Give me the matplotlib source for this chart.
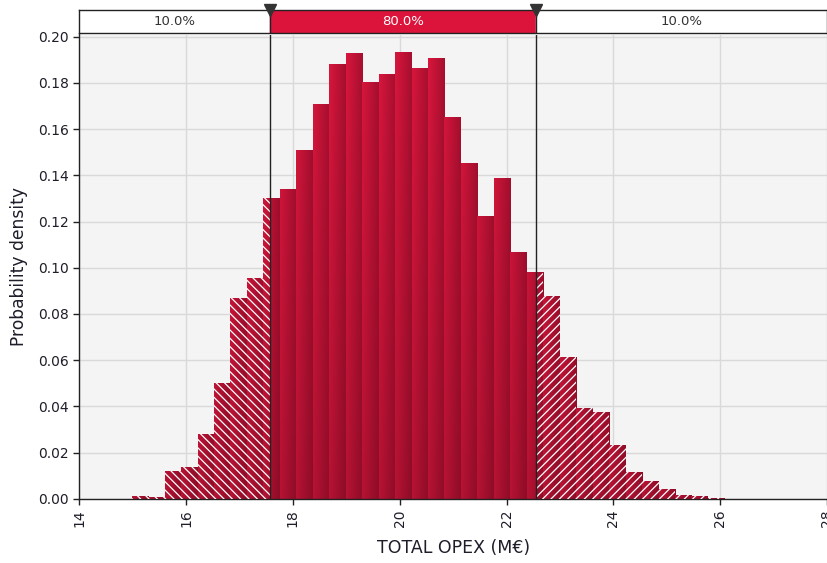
import numpy as np
import matplotlib
matplotlib.use("Agg")
import matplotlib.pyplot as plt
from matplotlib.colors import to_rgb
from matplotlib.transforms import blended_transform_factory

# Histogram of simulated total OPEX (M€)
bin_start = 14.98
bin_width = 0.3083
density = [
    0.0010, 0.0006, 0.0121, 0.0139, 0.0279, 0.0500, 0.0870, 0.0954,
    0.1300, 0.1340, 0.1512, 0.1707, 0.1883, 0.1928, 0.1805, 0.1837,
    0.1935, 0.1863, 0.1909, 0.1654, 0.1452, 0.1224, 0.1387, 0.1068,
    0.0982, 0.0877, 0.0615, 0.0394, 0.0374, 0.0232, 0.0115, 0.0077,
    0.0044, 0.0016, 0.0010, 0.0004,
]

# interval delimiters and the share of outcomes in each region
delimiters = [17.57, 22.55]
region_pct = [10.0, 80.0, 10.0]

x_ticks = [14, 16, 18, 20, 22, 24, 26, 28]
y_ticks = [0.00, 0.02, 0.04, 0.06, 0.08, 0.10, 0.12, 0.14, 0.16, 0.18, 0.20]
x_label = "TOTAL OPEX (M€)"
y_label = "Probability density"

RED = "#DC143C"
TEXT = "#1e1e2a"

plt.rcParams["font.family"] = ["DejaVu Sans"]
plt.rcParams["hatch.color"] = "white"
plt.rcParams["hatch.linewidth"] = 0.9

W, H = 827, 563
fig = plt.figure(figsize=(W / 100, H / 100), dpi=100)


def fy(py):
    return 1 - py / H


left = 79.3 / W
ax = fig.add_axes([left, fy(498.7), 1.0 - left, fy(34.5) - fy(498.7)])
strip = fig.add_axes([left, fy(32.7), 1.0 - left, fy(10.0) - fy(32.7)])

xlim = (x_ticks[0], x_ticks[-1])
ylim = (0, 0.201)

# split each bin at the delimiters so each piece belongs to one region
edges = bin_start + bin_width * np.arange(len(density) + 1)
seg_left, seg_w, seg_h, seg_reg, seg_bin = [], [], [], [], []
for i, h in enumerate(density):
    lo, hi = edges[i], edges[i + 1]
    cuts = [lo] + [d for d in delimiters if lo < d < hi] + [hi]
    for a, b in zip(cuts[:-1], cuts[1:]):
        reg = sum(1 for d in delimiters if a >= d - 1e-9)
        seg_left.append(a)
        seg_w.append(b - a)
        seg_h.append(h)
        seg_reg.append(reg)
        seg_bin.append(i)

bars = ax.bar(seg_left, seg_h, width=seg_w, align="edge", color=RED,
              linewidth=0, zorder=2)

# shaded fill: bright on the left of each bin, darker to the right and lower down
c_left = np.array(to_rgb("#DA163D"))
c_right = np.array(to_rgb("#A80F2F"))
nx, ny = 40, 80
tx = np.linspace(0, 1, nx)[None, :, None]
ty = np.linspace(0, 1, ny)[:, None, None]
grad = (c_left * (1 - tx) + c_right * tx) * (0.84 + 0.16 * ty)
grad = np.clip(grad, 0, 1)
for patch, b in zip(bars, seg_bin):
    im = ax.imshow(grad, extent=(edges[b], edges[b + 1], 0, ylim[1]),
                   origin="lower", aspect="auto", interpolation="bilinear",
                   zorder=2.1)
    im.set_clip_path(patch)

# hatching over the two tails
hatch_for = {0: "\\\\\\\\", 2: "////"}
for reg, hp in hatch_for.items():
    idx = [k for k, r in enumerate(seg_reg) if r == reg]
    ax.bar([seg_left[k] for k in idx], [seg_h[k] for k in idx],
           width=[seg_w[k] for k in idx], align="edge", color="none",
           linewidth=0, hatch=hp, zorder=3)

for d in delimiters:
    ax.axvline(d, color="#222222", lw=1.0, zorder=4)

ax.set_xlim(*xlim)
ax.set_ylim(*ylim)
ax.set_facecolor("#F4F4F4")
ax.set_axisbelow(True)
ax.grid(True, color="#D9D9D9", lw=1.0)
ax.set_xticks(x_ticks)
ax.set_yticks(y_ticks)
ax.set_xticklabels([str(t) for t in x_ticks], rotation=90)
ax.set_yticklabels([f"{t:.2f}" for t in y_ticks])
ax.tick_params(direction="out", length=4, width=1, labelsize=10,
               colors="#222222", labelcolor=TEXT)
for s in ("top", "right"):
    ax.spines[s].set_visible(False)
for s in ("left", "bottom"):
    ax.spines[s].set_color("#222222")
    ax.spines[s].set_linewidth(1.0)

ax.set_xlabel(x_label, fontsize=12.5, color=TEXT)
ax.set_ylabel(y_label, fontsize=12.3, color=TEXT)
ax.xaxis.set_label_coords(0.5, -0.086)
ax.yaxis.set_label_coords(-0.068, 0.5)

# percentage strip above the plot
bounds = [xlim[0]] + delimiters + [xlim[1]]
fills = ["white", RED, "white"]
tcols = ["#333333", "white", "#333333"]
for a, b, fc, tc, p in zip(bounds[:-1], bounds[1:], fills, tcols, region_pct):
    strip.axvspan(a, b, color=fc, zorder=1)
    strip.text((a + b) / 2, 0.5, f"{p:.1f}%", ha="center", va="center",
               fontsize=9.5, color=tc, zorder=3)
strip.set_xlim(*xlim)
strip.set_ylim(0, 1)
strip.set_xticks([])
strip.set_yticks([])
for s in strip.spines.values():
    s.set_color("#222222")
    s.set_linewidth(1.0)
trans = blended_transform_factory(strip.transData, strip.transAxes)
for d in delimiters:
    strip.axvline(d, color="#222222", lw=1.0, zorder=4)
    strip.plot([d], [1.0], marker="v", ms=8, color="#333333",
               transform=trans, clip_on=False, zorder=5)

fig.savefig("out.png", dpi=100)
